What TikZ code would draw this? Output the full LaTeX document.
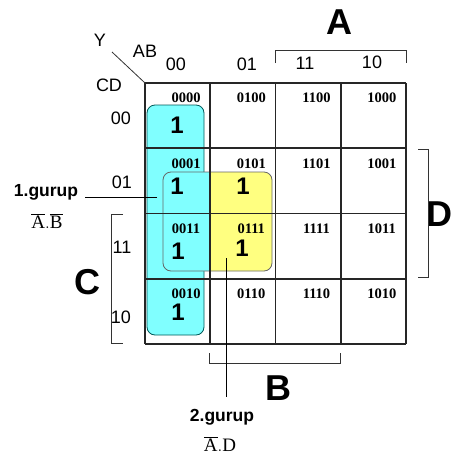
\documentclass[tikz,border=0pt]{standalone}
\usepackage{fontspec}
\setmainfont{Liberation Serif}
\setsansfont{Liberation Sans}
\usepackage{tikz}
\usetikzlibrary{positioning, calc}

\definecolor{gcyan}{RGB}{128,255,255}
\definecolor{gyellow}{RGB}{255,255,128}

\begin{document}
\begin{tikzpicture}[x=1pt, y=-1pt,
    hdr/.style={font=\sffamily\fontsize{18}{18}\selectfont, inner sep=0pt},
    bigvar/.style={font=\sffamily\bfseries\fontsize{36}{36}\selectfont, inner sep=0pt},
    one/.style={font=\sffamily\bfseries\fontsize{24}{24}\selectfont, inner sep=0pt},
    mint/.style={font=\bfseries\fontsize{14.5}{14.5}\selectfont, inner sep=0pt},
    grp/.style={font=\sffamily\bfseries\fontsize{17.5}{17.5}\selectfont, inner sep=0pt},
    expr/.style={font=\fontsize{19}{19}\selectfont, inner sep=0pt},
    brk/.style={draw=black!80, line width=1pt},
    cell/.style={draw=black!85, line width=1.6pt}]
            \useasboundingbox (0,0) rectangle (452,461);
            % groups
            \draw[fill=gcyan, draw=teal!70!black, line width=0.8pt, rounded corners=8pt] (147,105) rectangle (204,335);
            \begin{scope}
                \clip (140,160) rectangle (209.5,280);
                \fill[gcyan, rounded corners=8pt] (163,172) rectangle (272,271);
            \end{scope}
            \begin{scope}
                \clip (209.5,160) rectangle (300,280);
                \fill[gyellow, rounded corners=8pt] (163,172) rectangle (272,271);
            \end{scope}
            \draw[black!60, line width=0.8pt, rounded corners=8pt] (163,172) rectangle (272,271);
            % map
            \foreach \i in {0,...,4} {
                \draw[cell] (145+65.25*\i,83) -- (145+65.25*\i,344);
                \draw[cell] (145,83+65.25*\i) -- (406,83+65.25*\i);
            }
            \foreach \c/\ab in {0/00,1/01,2/11,3/10}
                \foreach \r/\cd in {0/00,1/01,2/11,3/10}
                    \node[mint] (m\ab\cd) at (145+65.25*\c+41, 83+65.25*\r+15) {\ab\cd};
            \node[one] (o0000) at (177,125) {1};
            \node[one] (o0001) at (177,186) {1};
            \node[one] (o0101) at (243,186) {1};
            \node[one] (o0011) at (178,251) {1};
            \node[one] (o0111) at (242,248) {1};
            \node[one] (o0010) at (178,312) {1};
            % labels
            \node[hdr] (cab00) at (176,64) {00};
            \node[hdr] (cab01) at (247,64) {01};
            \node[hdr] (cab11) at (305,63) {11};
            \node[hdr] (cab10) at (372,62) {10};
            \node[hdr] (rcd00) at (121,118) {00};
            \node[hdr] (rcd01) at (122,182) {01};
            \node[hdr] (rcd11) at (122,247) {11};
            \node[hdr] (rcd10) at (121,317) {10};
            \node[hdr] (ylab) at (100,40) {Y};
            \node[hdr] (ablab) at (145,51) {AB};
            \node[hdr] (cdlab) at (109,85) {CD};
            \coordinate (corner) at (145,83);
            \coordinate (diag) at (112,52);
            \draw[black!80, line width=0.8pt] (diag) -- (corner);
            % brackets
            \node[bigvar] (va) at (339,22) {A};
            \draw[brk] (275,63) -- (275,50) -- (406,50) -- (406,63);
            \node[bigvar] (vd) at (439,214) {D};
            \draw[brk] (418,149) -- (428,149) -- (428,277) -- (418,277);
            \node[bigvar] (vc) at (87,282) {C};
            \draw[brk] (123,214) -- (111,214) -- (111,343) -- (123,343);
            \node[bigvar] (vb) at (278,388) {B};
            \draw[brk] (209,353) -- (209,363) -- (340,363) -- (340,353);
            % groups
            \node[grp] (grp1) at (46,192) {1.gurup};
            \node[expr] (ex1) at (47,221) {$\overline{\mathrm{A}}.\overline{\mathrm{B}}$};
            \coordinate (g1) at (157,197);
            \draw[line width=1pt] (g1) -- ($(grp1.east |- g1)+(7,0)$);
            \node[grp] (grp2) at (222,417) {2.gurup};
            \node[expr] (ex2) at (220,444) {$\overline{\mathrm{A}}.\mathrm{D}$};
            \coordinate (g2) at (226,258);
            \draw[line width=1pt] (g2) -- ($(g2 |- grp2.north)+(0,-12)$);
        \end{tikzpicture}
\end{document}
